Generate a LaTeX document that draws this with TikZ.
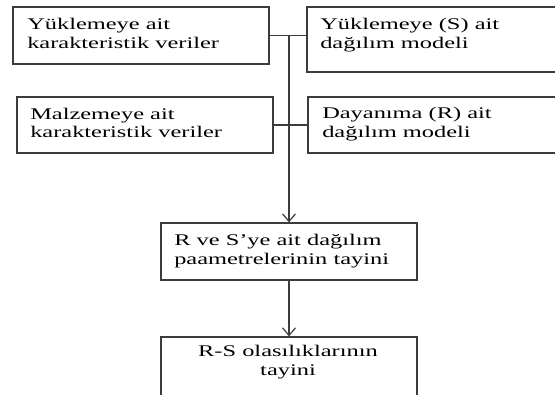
\documentclass[tikz,border=0pt]{standalone}
\usepackage{fontspec}
\setmainfont{Liberation Serif}[FakeStretch=1.5]
\usetikzlibrary{arrows.meta,positioning,calc}
\definecolor{ink}{HTML}{000000}
\definecolor{frame}{HTML}{3C3C3C}
\tikzset{
  >={Straight Barb[length=2.0mm,width=3.4mm]},
  flow/.style={->, draw=frame, line width=0.9pt},
  joinline/.style={draw=frame, line width=0.85pt},
  box/.style={draw=frame, line width=0.95pt, inner sep=0pt},
  txt/.style={font=\fontsize{12.2}{13.9}\selectfont, text=ink, inner sep=0pt},
  ltxt/.style={txt, align=left, anchor=west},
  ctxt/.style={txt, align=center},
}
\begin{document}
\begin{tikzpicture}[x=0.75pt,y=-0.75pt]
\useasboundingbox (0,0) rectangle (555,394);

% Upper inputs ----------------------------------------------------------------
\node[box, minimum width=192pt, minimum height=42.75pt] (yukVeri) at (141,35.5) {};
\node[ltxt] (yukVeriT) at (27,33.5) {Yüklemeye ait\\karakteristik veriler};

\node[box, minimum width=197.25pt, minimum height=48.75pt] (yukModel) at (438.5,39.5) {};
\node[ltxt] (yukModelT) at (320,35) {Yüklemeye (S) ait\\dağılım modeli};

\node[box, minimum width=192pt, minimum height=42pt] (malVeri) at (145,125) {};
\node[ltxt] (malVeriT) at (30,123) {Malzemeye ait\\karakteristik veriler};

\node[box, minimum width=196.5pt, minimum height=42pt] (dayModel) at (439,125) {};
\node[ltxt] (dayModelT) at (322,124) {Dayanıma (R) ait\\dağılım modeli};

% Parameters and probabilities --------------------------------------------------
\node[box, minimum width=192pt, minimum height=42.75pt] (param) at (289,251.5) {};
\node[ltxt] (paramT) at (174,251) {R ve S’ye ait dağılım\\paametrelerinin tayini};

\node[box, minimum width=192pt, minimum height=47.25pt] (olasilik) at (289,368.5) {};
\node[ctxt] (olasilikT) at (288,362) {R-S olasılıklarının\\tayini};

% Connectors
\coordinate (top) at (yukVeri.east -| param.north);
\draw[joinline] (yukVeri.east) -- (yukVeri.east -| yukModel.west);
\draw[joinline] (malVeri.east) -- (dayModel.west);
\draw[flow] (top) -- (param.north);
\draw[flow] (param.south) -- (olasilik.north);

\end{tikzpicture}
\end{document}
